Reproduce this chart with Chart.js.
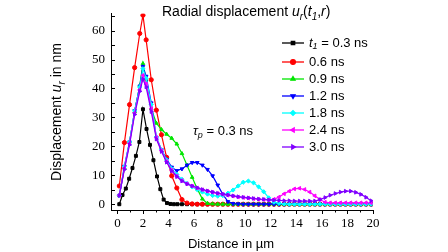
<!DOCTYPE html>
<html>
<head>
<meta charset="utf-8">
<script src="https://cdn.jsdelivr.net/npm/chart.js@4.4.1/dist/chart.umd.min.js"></script>
<style>
  html, body { margin: 0; padding: 0; background: #fff; }
  #chart { display: block; }
</style>
</head>
<body>
<canvas id="chart" width="448" height="252"></canvas>
<script>
// distance grid in um (shared by the 0.6 - 3.0 ns curves)
const distance = [0.15, 0.55, 0.95, 1.35, 1.75, 2.0, 2.25, 2.65, 3.05, 3.45, 3.85, 4.25, 4.65, 5.05, 5.45, 5.85,
  6.25, 6.65, 7.05, 7.45, 7.85, 8.25, 8.65, 9.05, 9.45, 9.85, 10.25, 10.65, 11.05, 11.45, 11.85, 12.25,
  12.65, 13.05, 13.45, 13.85, 14.25, 14.65, 15.05, 15.45, 15.85, 16.25, 16.65, 17.05, 17.45, 17.85, 18.25,
  18.65, 19.05, 19.45, 19.85];
// the 0.3 ns curve has a finer grid near the peak
const distanceFine = [0.15, 0.4, 0.66, 0.92, 1.18, 1.45, 1.72, 2.0, 2.28, 2.55, 2.82, 3.1, 3.36, 3.62, 3.88, 4.15,
  4.42, 4.7, 5.05, 5.45, 5.85, 6.25, 6.65, 7.05, 7.45, 7.85, 8.25, 8.65, 9.05, 9.45, 9.85, 10.25, 10.65, 11.05,
  11.45, 11.85, 12.25, 12.65, 13.05, 13.45, 13.85, 14.25, 14.65, 15.05, 15.45, 15.85, 16.25, 16.65, 17.05, 17.45,
  17.85, 18.25, 18.65, 19.05, 19.45, 19.85];

const u03 = [0, 3.2, 5.4, 8.8, 12.5, 16.7, 21.5, 32.8, 26, 20.5, 15.2, 9.6, 5.2, 1.6, 0.4, 0.1,
  0, 0, 0, 0, 0, 0, 0, 0, 0, 0, 0, 0, 0, 0, 0, 0, 0, 0, 0, 0, 0, 0, 0, 0, 0, 0, 0, 0, 0, 0, 0, 0, 0, 0, 0, 0, 0, 0, 0, 0];
const u06 = [6.3, 21.3, 34.4, 47.2, 59, 65.3, 56.8, 43, 32.5, 24, 16.2, 9.8, 5.6, 1.6, 0.4, 0.1,
  0, 0, 0, 0, 0, 0, 0, 0, 0, 0, 0, 0, 0, 0, 0, 0, 0, 0, 0, 0, 0, 0, 0, 0, 0, 0, 0, 0, 0, 0, 0, 0, 0, 0, 0];
const u09 = [3, 12.5, 21.5, 32, 41, 48.6, 43, 33, 28, 25.8, 24.2, 22.8, 20.8, 17.5, 13.5, 9.3,
  5.3, 1.8, 0.3, 0.1, 0, 0, 0, 0, 0, 0, 0, 0, 0, 0, 0, 0, 0, 0, 0, 0, 0, 0, 0, 0, 0, 0, 0, 0, 0, 0, 0, 0, 0, 0, 0];
const u12 = [2.9, 13.1, 21.5, 32.3, 40.8, 47.6, 44.2, 35, 23, 18.8, 15.5, 12.8, 11.6, 12.2, 13.5, 14.4,
  14.4, 13.5, 12.0, 9.8, 6.6, 3.4, 0.9, 0.2, 0.1, 0, 0, 0, 0, 0, 0, 0, 0, 0, 0, 0, 0, 0, 0, 0, 0, 0, 0, 0, 0, 0, 0, 0, 0, 0, 0];
const u18 = [3, 13, 21.5, 32.2, 40.5, 46.8, 43.5, 34.5, 23.2, 18.8, 15.3, 12.3, 10.3, 8.6, 7.2, 6.0,
  5.0, 4.2, 3.5, 3.0, 2.8, 3.0, 3.8, 4.9, 6.3, 7.6, 8.0, 7.4, 6.0, 4.3, 2.2, 0.7, 0.3, 0.1,
  0, 0, 0, 0, 0, 0, 0, 0, 0, 0, 0, 0, 0, 0, 0, 0, 0];
const u24 = [3, 12.5, 21, 31.5, 39.5, 44.5, 41.5, 33, 23, 18.5, 14.8, 11.8, 9.7, 8.2, 7.1, 6.3,
  5.6, 5.0, 4.5, 4.1, 3.7, 3.4, 3.1, 2.8, 2.5, 2.3, 2.1, 1.9, 1.7, 1.6, 1.5, 1.7, 2.5, 3.6, 4.5, 5.3, 5.5,
  5.1, 4.2, 2.9, 1.6, 0.7, 0.5, 0.5, 0.5, 0.5, 0.5, 0.5, 0.5, 0.5, 0.5];
const u30 = [3, 12, 20.5, 31, 39, 43.2, 40.5, 32, 22.5, 18.2, 14.5, 11.5, 9.5, 8.0, 7.0, 6.3,
  5.7, 5.1, 4.6, 4.2, 3.8, 3.5, 3.2, 2.9, 2.6, 2.4, 2.2, 2.0, 1.8, 1.7, 1.5, 1.4, 1.3, 1.2, 1.2, 1.1,
  1.1, 1.1, 1.1, 1.1, 1.6, 2.3, 3.1, 3.7, 4.2, 4.5, 4.5, 4.1, 3.4, 2.4, 1.2];

const xTicks = [0, 2, 4, 6, 8, 10, 12, 14, 16, 18, 20];
const xMinorTicks = [1, 3, 5, 7, 9, 11, 13, 15, 17, 19];
const yTicks = [0, 10, 20, 30, 40, 50, 60];
const yMinorTicks = [5, 15, 25, 35, 45, 55, 65];

const series = [
  { name: '0.3 ns', x: distanceFine, y: u03, color: '#000000', style: 'rect', rot: 0 },
  { name: '0.6 ns', x: distance, y: u06, color: '#ff0000', style: 'circle', rot: 0 },
  { name: '0.9 ns', x: distance, y: u09, color: '#00e600', style: 'triangle', rot: 0 },
  { name: '1.2 ns', x: distance, y: u12, color: '#0000ff', style: 'triangle', rot: 180 },
  { name: '1.8 ns', x: distance, y: u18, color: '#00ffff', style: 'rectRot', rot: 0 },
  { name: '2.4 ns', x: distance, y: u24, color: '#ff00ff', style: 'triangle', rot: 270 },
  { name: '3.0 ns', x: distance, y: u30, color: '#8000ff', style: 'triangle', rot: 90 }
];

const SANS = '"Liberation Sans", Arial, sans-serif';
const SERIF = '"Liberation Serif", "Times New Roman", serif';

// parts: [text, kind] kind: n normal, i italic, s italic subscript
function fontFor(kind, size) {
  if (kind === 'i') return 'italic ' + size + 'px ' + SANS;
  if (kind === 's') return 'italic ' + Math.round(size * 0.7) + 'px ' + SANS;
  return size + 'px ' + SANS;
}
function richWidth(ctx, parts, size) {
  let w = 0;
  parts.forEach(p => {
    ctx.font = fontFor(p[1], size);
    w += ctx.measureText(p[0]).width;
  });
  return w;
}
function drawRich(ctx, parts, x, y, size) {
  let cx = x;
  parts.forEach(p => {
    ctx.font = fontFor(p[1], size);
    ctx.fillText(p[0], cx, p[1] === 's' ? y + size * 0.25 : y);
    cx += ctx.measureText(p[0]).width;
  });
}

const decorPlugin = {
  id: 'decor',
  afterDraw(chart) {
    const ctx = chart.ctx;
    const xs = chart.scales.x, ys = chart.scales.y;
    const area = chart.chartArea;
    ctx.save();
    // tick marks: x outward, y inward
    ctx.strokeStyle = '#000';
    ctx.lineWidth = 1;
    ctx.beginPath();
    xTicks.concat(xMinorTicks).forEach(v => {
      const px = Math.round(xs.getPixelForValue(v)) + 0.5;
      const len = xTicks.includes(v) ? 4 : 2.5;
      ctx.moveTo(px, area.bottom);
      ctx.lineTo(px, area.bottom + len);
    });
    yTicks.concat(yMinorTicks).forEach(v => {
      const py = Math.round(ys.getPixelForValue(v)) + 0.5;
      ctx.moveTo(area.left, py);
      ctx.lineTo(area.left + 4, py);
    });
    ctx.stroke();

    ctx.fillStyle = '#000';
    ctx.textBaseline = 'alphabetic';
    ctx.textAlign = 'left';

    // title
    drawRich(ctx, [['Radial displacement ', 'n'], ['u', 'i'], ['r', 's'], ['(', 'n'], ['t', 'i'], ['1', 's'],
      [',', 'n'], ['r', 'i'], [')', 'n']], 162, 16, 14);

    // pulse duration
    drawRich(ctx, [['\u03c4', 'i'], ['p', 's'], [' = 0.3 ns', 'n']], 193, 135, 13);

    // axis titles
    const xt = [['Distance in \u00b5m', 'n']];
    drawRich(ctx, xt, 231 - richWidth(ctx, xt, 13) / 2, 248, 13);
    const yt = [['Displacement ', 'n'], ['u', 'i'], ['r', 's'], [' in nm', 'n']];
    ctx.save();
    ctx.translate(61, 112);
    ctx.rotate(-Math.PI / 2);
    drawRich(ctx, yt, -richWidth(ctx, yt, 14) / 2, 0, 14);
    ctx.restore();

    // legend
    const rowY = [43, 62, 79, 96, 113, 130, 147];
    series.forEach((s, i) => {
      const y = rowY[i];
      ctx.strokeStyle = s.color;
      ctx.fillStyle = s.color;
      ctx.lineWidth = 1.3;
      ctx.beginPath();
      ctx.moveTo(282, y);
      ctx.lineTo(304, y);
      ctx.stroke();
      Chart.helpers.drawPoint(ctx, { pointStyle: s.style, rotation: s.rot, radius: 2.4, borderWidth: 1 }, 293, y);
      ctx.fillStyle = '#000';
      ctx.textBaseline = 'middle';
      if (i === 0) {
        drawRich(ctx, [['t', 'i'], ['1', 's'], [' = ' + s.name, 'n']], 309, y, 13);
      } else {
        drawRich(ctx, [[s.name, 'n']], 309, y, 13);
      }
    });
    ctx.restore();
  }
};

new Chart(document.getElementById('chart'), {
  type: 'line',
  data: {
    datasets: series.map((s, i) => ({
      label: s.name,
      data: s.x.map((v, k) => ({ x: v, y: s.y[k] })),
      borderColor: s.color,
      backgroundColor: s.color,
      borderWidth: 1.2,
      pointStyle: s.style,
      pointRotation: s.rot,
      pointRadius: 2.1,
      pointBorderWidth: 1,
      tension: 0,
      order: series.length - i
    }))
  },
  options: {
    responsive: false,
    animation: false,
    layout: { padding: { left: 0, right: 75, top: 0, bottom: 0 } },
    plugins: { legend: { display: false }, tooltip: { enabled: false } },
    scales: {
      x: {
        type: 'linear',
        min: -0.5,
        max: 20,
        afterBuildTicks: s => { s.ticks = xTicks.map(v => ({ value: v })); },
        afterFit: s => { s.height = 42; },
        grid: { display: false, drawTicks: false },
        border: { display: true, color: '#000', width: 1 },
        ticks: { color: '#000', font: { family: SERIF, size: 13 }, padding: 6, maxRotation: 0 }
      },
      y: {
        min: -2,
        max: 65.8,
        afterBuildTicks: s => { s.ticks = yTicks.map(v => ({ value: v })); },
        afterFit: s => { s.width = 111; },
        grid: { display: false, drawTicks: false },
        border: { display: true, color: '#000', width: 1 },
        ticks: { color: '#000', font: { family: SERIF, size: 13 }, padding: 6 }
      }
    }
  },
  plugins: [decorPlugin]
});
</script>
</body>
</html>
